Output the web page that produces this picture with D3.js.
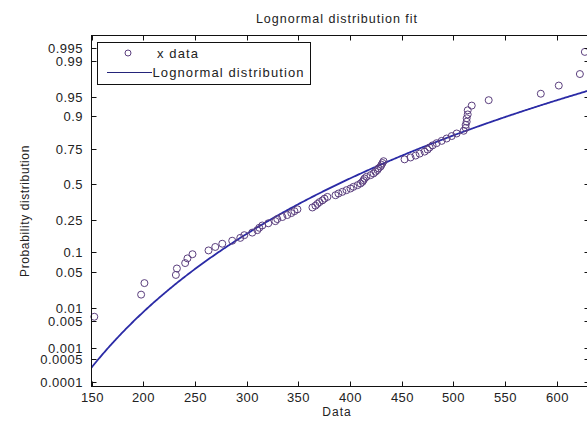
<!DOCTYPE html>
<html>
<head>
<meta charset="utf-8">
<script src="https://cdn.jsdelivr.net/npm/d3@7"></script>
<style>
body { margin: 0; background: #fff; }
text { font-family: "Liberation Sans", Arial, sans-serif; fill: #222; }
</style>
</head>
<body>
<svg id="chart" width="587" height="421"></svg>
<script>
// sorted sample values ("x data")
var xData = [152.7, 198.0, 201.2, 231.6, 232.6, 240.6, 242.8, 247.7, 263.2, 269.7,
             276.5, 286.1, 293.9, 297.8, 305.5, 310.4, 312.3, 315.2, 321.0, 327.8,
             329.7, 334.6, 339.4, 343.3, 346.3, 349.2, 363.7, 366.6, 368.5, 370.5,
             373.4, 375.4, 378.2, 386.0, 388.9, 392.7, 396.6, 400.5, 403.4, 407.3,
             410.2, 412.1, 413.1, 414.1, 416.0, 419.9, 422.8, 424.7, 426.6, 427.6,
             429.6, 430.5, 431.5, 432.5, 452.8, 458.6, 463.5, 467.4, 472.2, 475.1,
             477.0, 479.9, 483.8, 488.7, 493.5, 498.4, 503.2, 510.0, 511.9, 511.9,
             512.9, 512.9, 513.9, 513.9, 517.8, 534.2, 584.6, 602.0, 622.4, 627.2];

// fitted lognormal parameters (log-mean, log-sd)
var fitMu = 5.961;
var fitSigma = 0.275;

var xTicks = [150, 200, 250, 300, 350, 400, 450, 500, 550, 600];
var probTicks = [0.0001, 0.0005, 0.001, 0.005, 0.01, 0.05, 0.1, 0.25, 0.5, 0.75, 0.9, 0.95, 0.99, 0.995];

var titleText = "Lognormal distribution fit";
var xLabel = "Data";
var yLabel = "Probability distribution";
var legendLabels = ["x data", "Lognormal distribution"];

//inverse normal cdf (Acklam) - used for the probability axis
function probit(p) {
  var a = [-39.69683028665376, 220.9460984245205, -275.9285104469687, 138.3577518672690, -30.66479806614716, 2.506628277459239];
  var b = [-54.47609879822406, 161.5858368580409, -155.6989798598866, 66.80131188771972, -13.28068155288572];
  var c = [-0.007784894002430293, -0.3223964580411365, -2.400758277161838, -2.549732539343734, 4.374664141464968, 2.938163982698783];
  var d = [0.007784695709041462, 0.3224671290700398, 2.445134137142996, 3.754408661907416];
  var q, r;
  if (p < 0.02425) {
    q = Math.sqrt(-2 * Math.log(p));
    return (((((c[0]*q+c[1])*q+c[2])*q+c[3])*q+c[4])*q+c[5]) / ((((d[0]*q+d[1])*q+d[2])*q+d[3])*q+1);
  }
  if (p > 1 - 0.02425) {
    q = Math.sqrt(-2 * Math.log(1 - p));
    return -(((((c[0]*q+c[1])*q+c[2])*q+c[3])*q+c[4])*q+c[5]) / ((((d[0]*q+d[1])*q+d[2])*q+d[3])*q+1);
  }
  q = p - 0.5; r = q * q;
  return (((((a[0]*r+a[1])*r+a[2])*r+a[3])*r+a[4])*r+a[5])*q / (((((b[0]*r+b[1])*r+b[2])*r+b[3])*r+b[4])*r+1);
}

function drawChart() {
  var svg = d3.select("#chart");
  var pLeft = 91.5, pRight = 589.5, pTop = 35.5, pBottom = 386.5;

  var x = d3.scaleLinear().domain([150, 631.7]).range([pLeft, pRight]);
  var y = d3.scaleLinear().domain([-3.813, 2.807]).range([pBottom, pTop]);

  svg.append("defs").append("clipPath").attr("id", "plotclip")
    .append("rect").attr("x", pLeft).attr("y", pTop)
    .attr("width", pRight - pLeft).attr("height", pBottom - pTop);

  // fitted curve
  var n = xData.length;
  var curveX = d3.range(150, 632, 1);
  var line = d3.line()
    .x(function(d) { return x(d); })
    .y(function(d) { return y((Math.log(d) - fitMu) / fitSigma); });

  svg.append("path")
    .datum(curveX)
    .attr("clip-path", "url(#plotclip)")
    .attr("d", line)
    .attr("fill", "none")
    .attr("stroke", "#2b2ba6")
    .attr("stroke-width", 1.8);

  // data points at plotting positions (i-0.5)/n
  svg.append("g").selectAll("circle")
    .data(xData)
    .enter().append("circle")
    .attr("cx", function(d) { return x(d); })
    .attr("cy", function(d, i) { return y(probit((i + 0.5) / n)); })
    .attr("r", 3.5)
    .attr("fill", "none")
    .attr("stroke", "#5b3f7e")
    .attr("stroke-width", 1);

  // box
  svg.append("rect")
    .attr("x", pLeft).attr("y", pTop)
    .attr("width", pRight - pLeft).attr("height", pBottom - pTop)
    .attr("fill", "none").attr("stroke", "#111").attr("stroke-width", 1);

  // x ticks (bottom and top, inward)
  var tickLen = 5;
  xTicks.forEach(function(t) {
    var px = Math.round(x(t)) + 0.5;
    svg.append("line").attr("x1", px).attr("x2", px).attr("y1", pBottom).attr("y2", pBottom - tickLen).attr("stroke", "#111");
    svg.append("line").attr("x1", px).attr("x2", px).attr("y1", pTop).attr("y2", pTop + tickLen).attr("stroke", "#111");
    svg.append("text").attr("x", px).attr("y", 402)
      .attr("text-anchor", "middle").attr("font-size", 13).attr("letter-spacing", 0.5)
      .text(t);
  });

  // y ticks on probability scale
  probTicks.forEach(function(p) {
    var py = Math.round(y(probit(p))) + 0.5;
    svg.append("line").attr("x1", pLeft).attr("x2", pLeft + tickLen).attr("y1", py).attr("y2", py).attr("stroke", "#111");
    svg.append("line").attr("x1", pRight).attr("x2", pRight - tickLen).attr("y1", py).attr("y2", py).attr("stroke", "#111");
    svg.append("text").attr("x", 83).attr("y", py + 4.5)
      .attr("text-anchor", "end").attr("font-size", 13).attr("letter-spacing", 0.5)
      .text(p);
  });

  // title and labels
  svg.append("text").attr("x", 337).attr("y", 23)
    .attr("text-anchor", "middle").attr("font-size", 12.5).attr("letter-spacing", 1)
    .text(titleText);
  svg.append("text").attr("x", 337).attr("y", 416)
    .attr("text-anchor", "middle").attr("font-size", 12).attr("letter-spacing", 1)
    .text(xLabel);
  svg.append("text")
    .attr("transform", "translate(29,211) rotate(-90)")
    .attr("text-anchor", "middle").attr("font-size", 12).attr("letter-spacing", 0.6)
    .text(yLabel);

  // legend
  var lg = svg.append("g");
  lg.append("rect").attr("x", 97.5).attr("y", 42.5).attr("width", 213).attr("height", 42)
    .attr("fill", "#fff").attr("stroke", "#111");
  lg.append("circle").attr("cx", 128).attr("cy", 53).attr("r", 3)
    .attr("fill", "none").attr("stroke", "#5b3f7e");
  lg.append("text").attr("x", 157).attr("y", 57.5).attr("font-size", 13).attr("letter-spacing", 1.1)
    .text(legendLabels[0]);
  lg.append("line").attr("x1", 107).attr("x2", 152).attr("y1", 72.5).attr("y2", 72.5)
    .attr("stroke", "#24247a").attr("stroke-width", 1.2);
  lg.append("text").attr("x", 152.5).attr("y", 77).attr("font-size", 13).attr("letter-spacing", 1.1)
    .text(legendLabels[1]);
}

drawChart();
</script>
</body>
</html>
